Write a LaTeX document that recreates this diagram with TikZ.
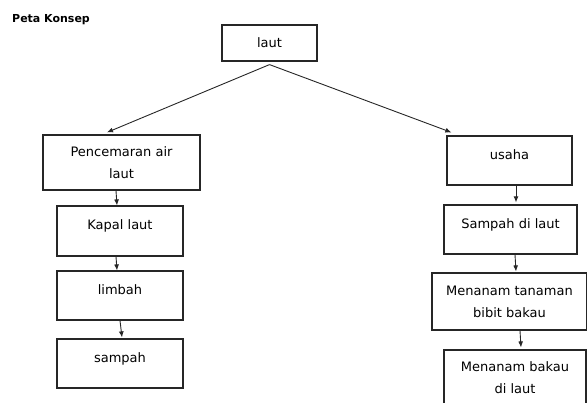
\documentclass[tikz,border=0pt]{standalone}
\usepackage{fontspec}
\setmainfont{DejaVu Sans}
\usetikzlibrary{calc,arrows.meta}

\tikzset{
  box/.style={draw,rectangle,line width=1.2pt,color=black!85,text=black,
    inner sep=0pt,align=center},
  lift/.style={text height=10pt,text depth=12.5pt},
  arr/.style={-{Latex[length=6pt,width=5pt]},line width=0.9pt,color=black!85}
}

\begin{document}
\begin{tikzpicture}[x=1pt,y=-1pt,font={\fontsize{13}{22}\selectfont}]
\useasboundingbox (0,0) rectangle (587,403);
\clip (0,0) rectangle (587,403);

\node[anchor=west,inner sep=0pt,font={\fontsize{11}{13}\selectfont\bfseries}] (title) at (12,20) {Peta Konsep};

\node[box,minimum width=95pt,minimum height=36pt] (laut) at (269.5,43) {laut};

\node[box,minimum width=157pt,minimum height=55pt] (pencemaran) at (121.5,162.5) {Pencemaran air\\laut};
\node[box,lift,minimum width=126pt,minimum height=50pt] (kapal) at (120,231) {Kapal laut};
\node[box,lift,minimum width=126pt,minimum height=49pt] (limbah) at (120,295.5) {limbah};
\node[box,lift,minimum width=126pt,minimum height=49pt] (sampah) at (120,363.5) {sampah};

\node[box,lift,minimum width=125pt,minimum height=49pt] (usaha) at (509.5,160.5) {usaha};
\node[box,lift,minimum width=133pt,minimum height=49pt] (sampahlaut) at (510.5,229.5) {Sampah di laut};
\node[box,minimum width=155pt,minimum height=57pt] (tanaman) at (509.5,301.5) {Menanam tanaman\\bibit bakau};
\node[box,minimum width=142pt,minimum height=55pt] (bakau) at (515,377.5) {Menanam bakau\\di laut};

\draw[arr] ([yshift=-3pt]laut.south) -- ($(pencemaran.north)+(-14.5,-2)$);
\draw[arr] ([yshift=-3pt]laut.south) -- ($(usaha.north west)+(5,-3)$);

\draw[arr] ($(pencemaran.south)+(-5.5,0)$) -- ($(kapal.north)+(-3,0)$);
\draw[arr] ($(kapal.south)+(-4,0)$) -- ($(limbah.north)+(-3,0)$);
\draw[arr] (limbah.south) -- ($(sampah.north)+(2,-1)$);

\draw[arr] ($(usaha.south)+(6.5,0)$) -- ($(sampahlaut.north)+(5.5,-2)$);
\draw[arr] ($(sampahlaut.south)+(4.5,0)$) -- ($(tanaman.north)+(6.5,-1)$);
\draw[arr] ($(tanaman.south)+(10.5,0)$) -- ($(bakau.north)+(6,-2)$);
\end{tikzpicture}
\end{document}
